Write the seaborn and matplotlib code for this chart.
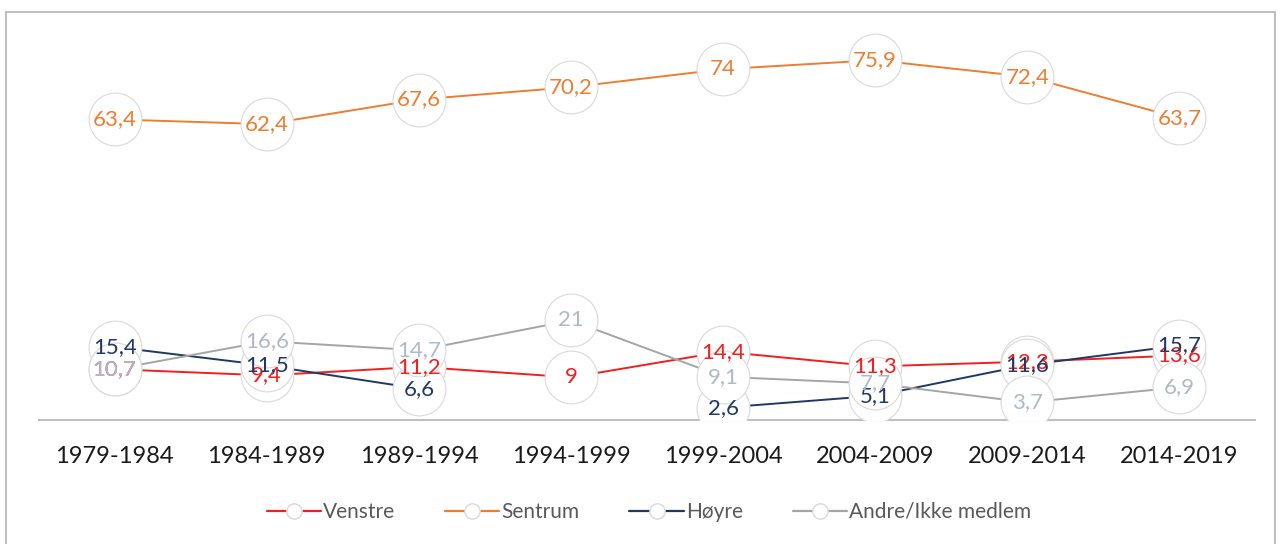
import numpy as np
import pandas as pd
import seaborn as sns
import matplotlib.pyplot as plt
from matplotlib.lines import Line2D
from matplotlib.patches import Rectangle

# periods on the x axis
periods = ['1979-1984', '1984-1989', '1989-1994', '1994-1999',
           '1999-2004', '2004-2009', '2009-2014', '2014-2019']

venstre = [10.7, 9.4, 11.2, 9.0, 14.4, 11.3, 12.3, 13.6]
sentrum = [63.4, 62.4, 67.6, 70.2, 74.0, 75.9, 72.4, 63.7]
hoyre = [15.4, 11.5, 6.6, np.nan, 2.6, 5.1, 11.6, 15.7]
andre = [10.7, 16.6, 14.7, 21.0, 9.1, 7.7, 3.7, 6.9]

series_names = ['Venstre', 'Sentrum', 'Høyre', 'Andre/Ikke medlem']
line_colors = ['#F21F1F', '#ED7D31', '#1F3864', '#A5A5A5']
label_colors = ['#F21F1F', '#ED7D31', '#1F3864', '#ADB9CA']

# long-form table, gaps split a series into separate units
rows = []
for name, vals in zip(series_names, [venstre, sentrum, hoyre, andre]):
    s = pd.Series(vals)
    seg = s.isna().cumsum()
    for i, v in enumerate(vals):
        rows.append({'x': i, 'value': v, 'serie': name, 'seg': seg[i]})
df = pd.DataFrame(rows).dropna()

sns.set_theme(style='white')
plt.rcParams['font.family'] = ['Lato', 'DejaVu Sans']

fig = plt.figure(figsize=(12.85, 5.44), dpi=100)
ax = fig.add_axes([0.030, 0.228, 0.947, 0.732])

sns.lineplot(data=df, x='x', y='value', hue='serie', units='seg', estimator=None,
             hue_order=series_names, palette=line_colors, linewidth=1.4,
             marker='o', markersize=38, markerfacecolor='white',
             markeredgecolor='#D9D9D9', markeredgewidth=0.8,
             legend=False, ax=ax, zorder=3)

for name, vals, col in zip(series_names, [venstre, sentrum, hoyre, andre], label_colors):
    for i, v in enumerate(vals):
        if np.isnan(v):
            continue
        txt = ('%g' % v).replace('.', ',')
        ax.text(i, v, txt, ha='center', va='center', color=col,
                fontsize=16, zorder=10)

ax.set_xlim(-0.5, len(periods) - 0.5)
ax.set_ylim(0, 84)
ax.set_xticks(range(len(periods)))
ax.set_xticklabels(periods, fontsize=17, color='#1a1a1a')
ax.tick_params(axis='x', length=0, pad=19)
ax.set_yticks([])
ax.set_xlabel('')
ax.set_ylabel('')
for sp in ['top', 'right', 'left']:
    ax.spines[sp].set_visible(False)
ax.spines['bottom'].set_color('#BFBFBF')
ax.spines['bottom'].set_linewidth(1.5)

handles = [Line2D([0], [0], color=c, lw=1.6, marker='o', markersize=11,
                  markerfacecolor='white', markeredgecolor='#D9D9D9')
           for c in line_colors]
fig.legend(handles, series_names, loc='center', bbox_to_anchor=(0.505, 0.059),
           ncol=4, frameon=False, fontsize=15, labelcolor='#595959',
           handlelength=2.6, handletextpad=0.1, columnspacing=2.4)

fig.patches.append(Rectangle((0.005, -0.02), 0.987, 0.998, transform=fig.transFigure,
                             fill=False, edgecolor='#BFBFBF', linewidth=1.5))

fig.savefig('out.png', dpi=100)
